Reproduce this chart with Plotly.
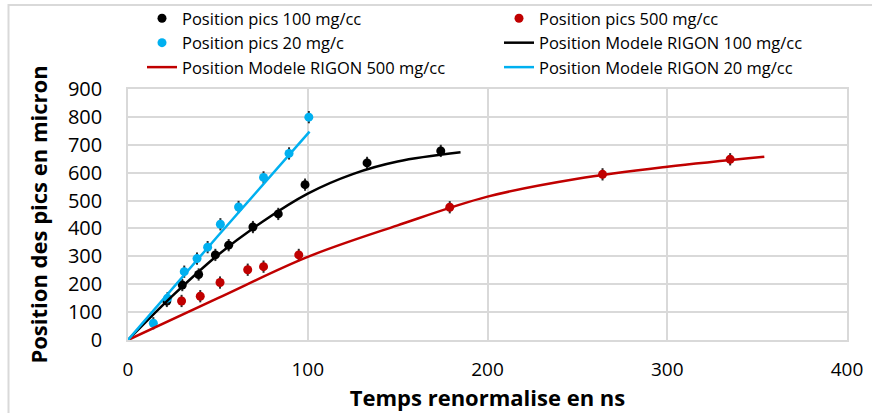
import plotly.graph_objects as go

# Data points (time in ns, position in micron)
t_100 = [21.6, 30.2, 39.3, 48.6, 56.0, 69.5, 83.6, 98.5, 133.0, 174.0]
p_100 = [140, 197, 235, 305, 340, 405, 452, 557, 635, 678]

t_500 = [29.8, 40.2, 51.2, 66.6, 75.4, 95.0, 179.0, 264.0, 335.0]
p_500 = [140, 157, 206, 252, 263, 305, 476, 594, 648]

t_20 = [14.1, 22.0, 31.3, 38.4, 44.3, 51.4, 61.5, 75.4, 89.6, 100.6]
p_20 = [60, 150, 245, 292, 333, 415, 477, 583, 669, 799]

err = 22

# Model curves
tm_100 = [0, 25, 50, 75, 100, 125, 150, 185]
pm_100 = [0, 160, 305, 425, 525, 595, 640, 673]

tm_500 = [0, 50, 100, 150, 200, 250, 300, 354]
pm_500 = [0, 150, 298, 411, 514, 578, 621, 657]

tm_20 = [0, 50, 101]
pm_20 = [0, 373, 747]

BLACK = "#000000"
RED = "#C00000"
BLUE = "#00B0F0"
ERRC = "#2a2a2a"

fig = go.Figure()

def pts(x, y, name, color):
    return go.Scatter(
        x=x, y=y, mode="markers", name=name,
        marker=dict(color=color, size=9),
        error_y=dict(type="constant", value=err, color=ERRC, thickness=2, width=0),
    )

def line(x, y, name, color):
    return go.Scatter(
        x=x, y=y, mode="lines", name=name,
        line=dict(color=color, width=2.5, shape="spline", smoothing=1.0),
    )

fig.add_trace(pts(t_100, p_100, "Position pics 100 mg/cc", BLACK))
fig.add_trace(pts(t_500, p_500, "Position pics 500 mg/cc", RED))
fig.add_trace(pts(t_20, p_20, "Position pics 20 mg/c", BLUE))
fig.add_trace(line(tm_100, pm_100, "Position Modele RIGON 100 mg/cc", BLACK))
fig.add_trace(line(tm_500, pm_500, "Position Modele RIGON 500 mg/cc", RED))
fig.add_trace(line(tm_20, pm_20, "Position Modele RIGON 20 mg/cc", BLUE))

L, R, T, B = 128, 25, 89, 73
W, H = 872, 413
pw, ph = W - L - R, H - T - B

def px_x(px):
    return (px - L) / pw

def px_y(py):
    return (H - B - py) / ph

GRID = "#D9D9D9"
FONT = "Open Sans"

fig.update_layout(
    width=W, height=H,
    margin=dict(l=L, r=R, t=T, b=B, autoexpand=False),
    paper_bgcolor="white", plot_bgcolor="white",
    font=dict(family=FONT, color="#000000"),
    showlegend=True,
    legend=dict(
        orientation="h", xref="container", yref="container",
        x=142 / W, y=1 - 1 / H, xanchor="left", yanchor="top",
        entrywidth=312, entrywidthmode="pixels",
        font=dict(family=FONT, size=16.5, color="#000000"),
        bgcolor="rgba(0,0,0,0)", traceorder="normal",
        itemwidth=30, tracegroupgap=0,
    ),
    xaxis=dict(
        range=[0, 400], dtick=100, tick0=0,
        showgrid=True, gridcolor=GRID, gridwidth=1.5,
        zeroline=False, showline=True, linecolor=GRID, linewidth=1.5, mirror=True,
        ticks="", ticklabelstandoff=11,
        tickfont=dict(family=FONT, size=19, color="#000000"),
        title=dict(text="<b>Temps renormalise en ns</b>", font=dict(family=FONT, size=22), standoff=0),
    ),
    yaxis=dict(
        range=[0, 900], dtick=100, tick0=0,
        showgrid=True, gridcolor=GRID, gridwidth=1.5,
        zeroline=False, showline=True, linecolor=GRID, linewidth=1.5, mirror=True,
        ticks="", ticklabelstandoff=20,
        tickfont=dict(family=FONT, size=20, color="#000000"),
        title=dict(text="<b>Position des pics en micron</b>", font=dict(family=FONT, size=22), standoff=14),
    ),
)

# outer chart border (top and left edges visible)
fig.add_shape(
    type="rect", xref="paper", yref="paper",
    x0=px_x(8.5), x1=px_x(900), y0=px_y(440), y1=px_y(5),
    line=dict(color="#D9D9D9", width=2), layer="below",
)

fig.write_html(
    "out.html",
    config={"displayModeBar": False},
    post_script="document.body.style.margin='0';",
)
